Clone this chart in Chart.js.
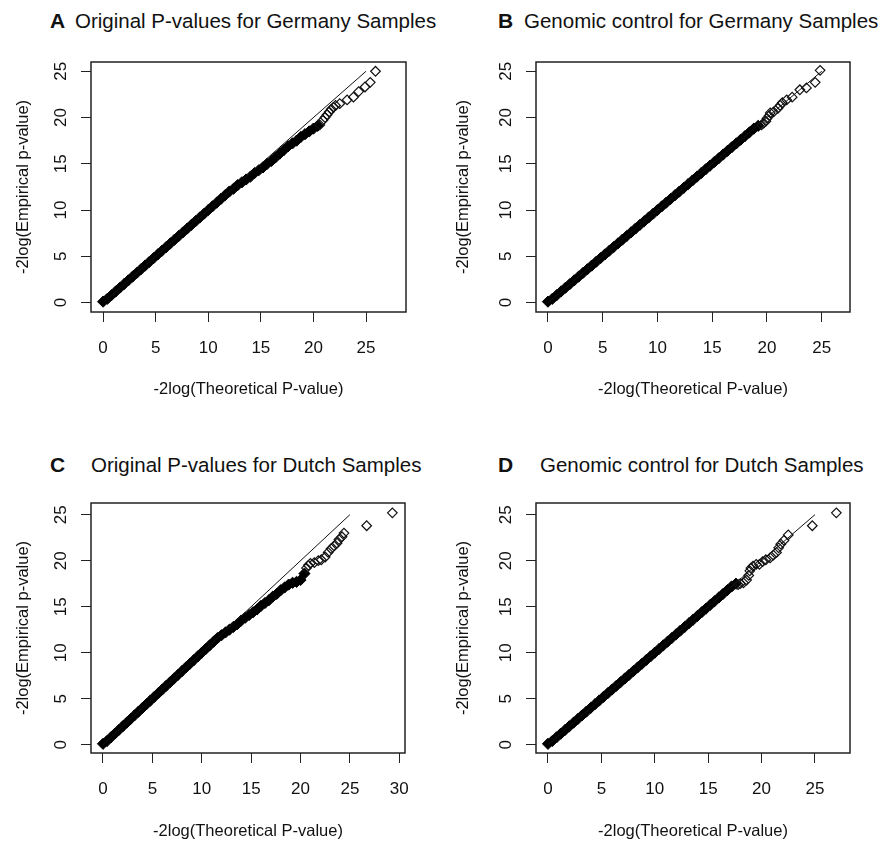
<!DOCTYPE html>
<html>
<head>
<meta charset="utf-8">
<script src="https://cdn.jsdelivr.net/npm/chart.js@4.4.1/dist/chart.umd.min.js"></script>
<style>
  body { margin: 0; background: #fff; width: 878px; height: 842px; position: relative; overflow: hidden;
         font-family: "Liberation Sans", Arial, sans-serif; color: #111; }
  canvas { position: absolute; }
  .letra { position: absolute; font-size: 21px; font-weight: bold; line-height: 20px; }
  .titulo { position: absolute; font-size: 20.5px; line-height: 20px; white-space: nowrap; }
</style>
</head>
<body>
<div class="letra" style="left:50px;top:11px">A</div>
<div class="titulo" style="left:75px;top:11px">Original P-values for Germany Samples</div>
<div class="letra" style="left:498px;top:11px">B</div>
<div class="titulo" style="left:524px;top:11px">Genomic control for Germany Samples</div>
<div class="letra" style="left:50px;top:455px">C</div>
<div class="titulo" style="left:91px;top:455px">Original P-values for Dutch Samples</div>
<div class="letra" style="left:498px;top:455px">D</div>
<div class="titulo" style="left:540px;top:455px">Genomic control for Dutch Samples</div>

<canvas id="painelA" width="440" height="400" style="left:0;top:0"></canvas>
<canvas id="painelB" width="438" height="400" style="left:440px;top:0"></canvas>
<canvas id="painelC" width="440" height="422" style="left:0;top:420px"></canvas>
<canvas id="painelD" width="438" height="422" style="left:440px;top:420px"></canvas>

<script>
// Quantis teóricos (-2log p) onde a faixa densa foi lida
const teoricoFaixa = [0, 0.4, 0.8, 1.2, 1.6, 2, 2.4, 2.8, 3.2, 3.6, 4, 4.4, 4.8, 5.2, 5.6, 6, 6.4, 6.8, 7.2, 7.6,
    8, 8.4, 8.8, 9.2, 9.6, 10, 10.4, 10.8, 11.2, 11.6, 12, 12.4, 12.8, 13.2, 13.6, 14, 14.4, 14.8, 15.2, 15.6,
    16, 16.4, 16.8, 17.2, 17.6, 18, 18.4, 18.8, 19.2, 19.6, 20, 20.4];

// A - valores originais, Alemanha
const empiricoFaixaA = [0.1, 0.4, 0.8, 1.2, 1.6, 2, 2.4, 2.8, 3.2, 3.6, 4, 4.4, 4.8, 5.2, 5.6, 6, 6.4, 6.8, 7.2, 7.6,
    8, 8.4, 8.8, 9.2, 9.6, 10, 10.4, 10.8, 11.2, 11.6, 12, 12.3, 12.7, 13.0, 13.3, 13.6, 14.0, 14.3, 14.6, 15.0,
    15.3, 15.7, 16.1, 16.5, 16.9, 17.2, 17.5, 17.9, 18.2, 18.5, 18.8, 19.1];
const teoricoCaudaA = [20.6, 20.9, 21.1, 21.3, 21.5, 21.7, 21.9, 22.1, 22.5, 23.2, 23.8, 24.3, 24.9, 25.4, 25.9];
const empiricoCaudaA = [19.2, 19.7, 20.0, 20.3, 20.6, 20.9, 21.1, 21.3, 21.5, 21.9, 22.2, 22.8, 23.3, 23.8, 25.0];

// B - controle genômico, Alemanha
const empiricoFaixaB = [0.1, 0.4, 0.8, 1.2, 1.6, 2, 2.4, 2.8, 3.2, 3.6, 4, 4.4, 4.8, 5.2, 5.6, 6, 6.4, 6.8, 7.2, 7.6,
    8, 8.4, 8.8, 9.2, 9.6, 10, 10.4, 10.8, 11.2, 11.6, 12, 12.4, 12.8, 13.2, 13.6, 14, 14.4, 14.8, 15.2, 15.6,
    16, 16.4, 16.8, 17.2, 17.6, 18, 18.4, 18.8, 19.1];
const teoricoCaudaB = [19.5, 19.7, 19.9, 20.0, 20.2, 20.3, 20.6, 21.0, 21.2, 21.4, 21.8, 22.3, 23.0, 23.6, 24.4, 24.85];
const empiricoCaudaB = [19.2, 19.4, 19.6, 19.9, 20.2, 20.5, 20.6, 21.0, 21.3, 21.6, 21.9, 22.2, 23.0, 23.2, 23.8, 25.1];

// C - valores originais, Holanda
const empiricoFaixaC = [0.1, 0.4, 0.8, 1.2, 1.6, 2, 2.4, 2.8, 3.2, 3.6, 4, 4.4, 4.8, 5.2, 5.6, 6, 6.4, 6.8, 7.2, 7.6,
    8, 8.4, 8.8, 9.2, 9.6, 10, 10.4, 10.8, 11.2, 11.6, 11.9, 12.2, 12.5, 12.8, 13.1, 13.5, 13.8, 14.1, 14.4, 14.7,
    15.1, 15.4, 15.7, 16.1, 16.4, 16.8, 17.1, 17.4, 17.6, 17.7, 17.9, 18.6];
const teoricoCaudaC = [20.6, 20.8, 21.0, 21.4, 21.8, 22.1, 22.5, 22.8, 23.1, 23.4, 23.7, 23.9, 24.2, 24.4, 26.7, 29.3];
const empiricoCaudaC = [19.2, 19.5, 19.7, 19.8, 20.0, 20.1, 20.4, 20.9, 21.3, 21.6, 21.9, 22.3, 22.6, 23.0, 23.8, 25.2];

// D - controle genômico, Holanda
const empiricoFaixaD = [0.1, 0.4, 0.8, 1.2, 1.6, 2, 2.4, 2.8, 3.2, 3.6, 4, 4.4, 4.8, 5.2, 5.6, 6, 6.4, 6.8, 7.2, 7.6,
    8, 8.4, 8.8, 9.2, 9.6, 10, 10.4, 10.8, 11.2, 11.6, 12, 12.4, 12.8, 13.2, 13.6, 14, 14.4, 14.8, 15.2, 15.6,
    16, 16.4, 16.8, 17.2, 17.5];
const teoricoCaudaD = [17.8, 18.0, 18.3, 18.6, 18.8, 18.9, 19.0, 19.2, 19.5, 19.8, 20.1, 20.4, 20.8, 21.1, 21.4,
    21.6, 21.8, 22.1, 22.5, 24.75, 27.0];
const empiricoCaudaD = [17.4, 17.5, 17.6, 17.9, 18.4, 18.9, 19.2, 19.4, 19.6, 19.6, 19.9, 20.1, 20.3, 20.6, 20.9,
    21.4, 21.8, 22.2, 22.8, 23.8, 25.2];

// Reta de referência y = x
const linhaRefX = [0, 25];
const linhaRefY = [0, 25];

const corTexto = '#111';
Chart.defaults.font.family = '"Liberation Sans", Arial, sans-serif';
Chart.defaults.color = corTexto;

// Caixa em volta do gráfico e rótulos do eixo y girados (estilo R)
const estiloR = {
    id: 'estiloR',
    afterDraw(chart) {
        const ctx = chart.ctx;
        const area = chart.chartArea;
        const eixoY = chart.scales.y;
        ctx.save();
        ctx.strokeStyle = '#222';
        ctx.lineWidth = 1.5;
        ctx.strokeRect(area.left, area.top, area.right - area.left, area.bottom - area.top);
        ctx.font = '17px "Liberation Sans", Arial, sans-serif';
        ctx.fillStyle = corTexto;
        ctx.textAlign = 'center';
        ctx.textBaseline = 'middle';
        eixoY.ticks.forEach(function (t) {
            const py = eixoY.getPixelForValue(t.value);
            ctx.save();
            ctx.translate(area.left - 30, py);
            ctx.rotate(-Math.PI / 2);
            ctx.fillText(String(t.value), 0, 0);
            ctx.restore();
        });
        ctx.restore();
    }
};

function pares(xs, ys) {
    let pts = [];
    for (let i = 0; i < ys.length; i++) {
        pts.push({ x: xs[i], y: ys[i] });
    }
    return pts;
}

function plotarPainel(idCanvas, faixaY, caudaX, caudaY, lay) {
    const config = {
        type: 'scatter',
        data: {
            datasets: [
                {
                    label: 'y = x',
                    data: pares(linhaRefX, linhaRefY),
                    showLine: true,
                    borderColor: '#111',
                    borderWidth: 1,
                    pointRadius: 0
                },
                {
                    label: 'cauda',
                    data: pares(caudaX, caudaY),
                    pointStyle: 'rectRot',
                    pointRadius: 4.8,
                    backgroundColor: 'rgba(0,0,0,0)',
                    borderColor: '#111',
                    borderWidth: 1.2
                },
                {
                    label: 'faixa',
                    data: pares(teoricoFaixa, faixaY),
                    pointStyle: 'rectRot',
                    pointRadius: 5.6,
                    backgroundColor: '#000',
                    borderColor: '#000',
                    borderWidth: 1
                }
            ]
        },
        options: {
            responsive: false,
            animation: false,
            devicePixelRatio: 1,
            layout: { padding: { left: 0, top: lay.padTop, right: lay.padRight, bottom: 0 } },
            plugins: { legend: { display: false }, tooltip: { enabled: false } },
            scales: {
                x: {
                    type: 'linear',
                    min: lay.xMin,
                    max: lay.xMax,
                    afterFit: function (s) { s.height = lay.xHeight; },
                    border: { display: false },
                    grid: { drawOnChartArea: false, drawTicks: true, tickLength: 10, color: '#222', lineWidth: 1 },
                    ticks: { stepSize: 5, includeBounds: false, padding: 16, maxRotation: 0,
                             font: { size: 17 }, color: corTexto },
                    title: { display: true, text: '-2log(Theoretical P-value)', font: { size: 16.5 },
                             color: corTexto, padding: { top: 0, bottom: 1 } }
                },
                y: {
                    type: 'linear',
                    min: lay.yMin,
                    max: lay.yMax,
                    afterFit: function (s) { s.width = lay.yWidth; },
                    border: { display: false },
                    grid: { drawOnChartArea: false, drawTicks: true, tickLength: 10, color: '#222', lineWidth: 1 },
                    ticks: { stepSize: 5, includeBounds: false, display: false },
                    title: { display: true, text: '-2log(Empirical p-value)', font: { size: 16.5 },
                             color: corTexto, padding: { top: 14, bottom: 0 } }
                }
            }
        },
        plugins: [estiloR]
    };
    return new Chart(document.getElementById(idCanvas), config);
}

plotarPainel('painelA', empiricoFaixaA, teoricoCaudaA, empiricoCaudaA,
    { padTop: 62, padRight: 34, yWidth: 91, xHeight: 88, xMin: -1.15, xMax: 28.8, yMin: -1.02, yMax: 26.0 });
plotarPainel('painelB', empiricoFaixaB, teoricoCaudaB, empiricoCaudaB,
    { padTop: 62, padRight: 28, yWidth: 96, xHeight: 88, xMin: -1.09, xMax: 27.58, yMin: -1.02, yMax: 26.0 });
plotarPainel('painelC', empiricoFaixaC, teoricoCaudaC, empiricoCaudaC,
    { padTop: 83, padRight: 35, yWidth: 91, xHeight: 89, xMin: -1.215, xMax: 30.58, yMin: -0.9, yMax: 26.27 });
plotarPainel('painelD', empiricoFaixaD, teoricoCaudaD, empiricoCaudaD,
    { padTop: 83, padRight: 28, yWidth: 96, xHeight: 89, xMin: -1.12, xMax: 28.28, yMin: -0.9, yMax: 26.27 });
</script>
</body>
</html>
